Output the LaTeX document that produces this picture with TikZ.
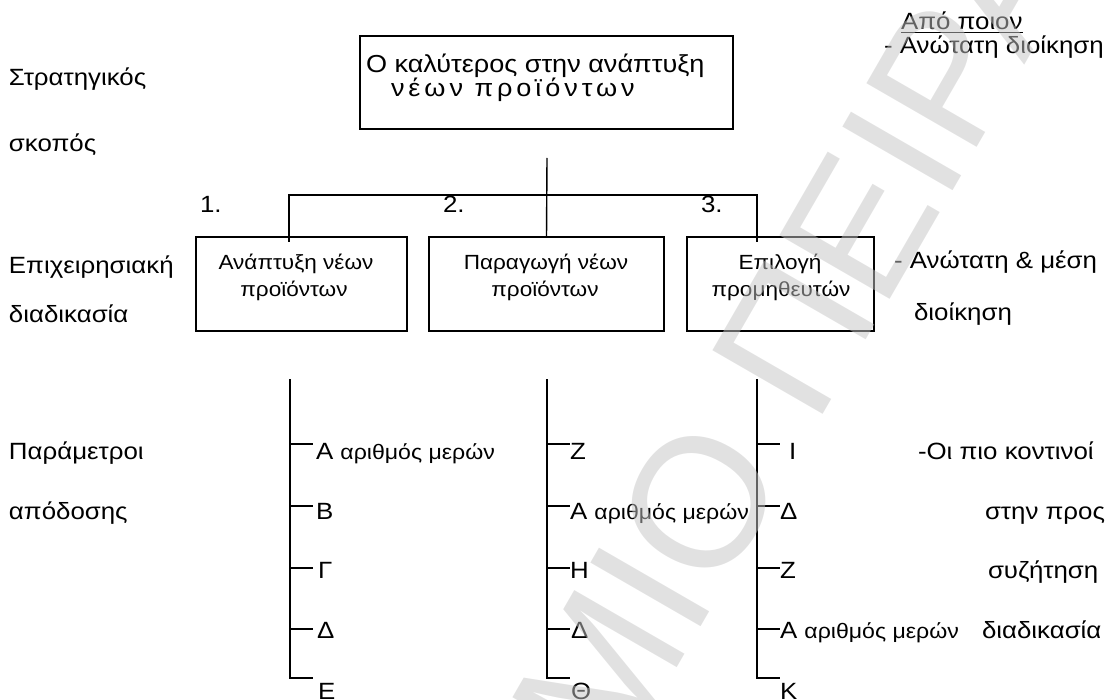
\documentclass[tikz,border=0pt]{standalone}
\usepackage{fontspec}
\setmainfont{Liberation Sans}[FakeStretch=1.1]
\newfontfamily\plainsans{Liberation Sans}
\newcommand\itemsmall{\fontsize{21}{21}\selectfont}
\newcommand\widetrack{\addfontfeature{LetterSpace=16}}
\begin{document}
\begin{tikzpicture}[x=1pt,y=-1pt,
  every node/.style={inner sep=0pt, outer sep=0pt},
  lbl/.style={anchor=base west, font=\fontsize{23.5}{23.5}\selectfont},
  toptxt/.style={anchor=base west, font=\fontsize{24.6}{24.6}\selectfont},
  boxtxt/.style={anchor=base, font=\fontsize{20.5}{20.5}\selectfont},
  item/.style={anchor=base west, font=\fontsize{23.5}{23.5}\selectfont},
  frame/.style={draw, line width=1.5pt, anchor=north west},
  wire/.style={line width=1.4pt},
  watermark/.style={text=black!23, text opacity=0.5, rotate=60, anchor=base,
    font=\plainsans\fontsize{185}{185}\selectfont}
]
\useasboundingbox (0,0) rectangle (1115,700);

% ---------- level labels (left) ----------
\node[lbl] (l1a) at (9,86)  {Στρατηγικός};
\node[lbl] (l1b) at (9,152) {σκοπός};
\node[lbl] (l2a) at (9,274) {Επιχειρησιακή};
\node[lbl] (l2b) at (9,323) {διαδικασία};
\node[lbl] (l3a) at (9,459) {Παράμετροι};
\node[lbl] (l3b) at (9,519) {απόδοσης};

% ---------- responsibility (right) ----------
\node[lbl] (who) at (901,30) {Από ποιον};
\draw[line width=1.2pt] ([yshift=-2.5pt]who.base west) -- ([yshift=-2.5pt]who.base east);
\node[lbl] (r1) at (884,54)  {- Ανώτατη διοίκηση};
\node[lbl] (r2a) at (894,269) {- Ανώτατη \& μέση};
\node[lbl] (r2b) at (914,320) {διοίκηση};
\node[lbl] (r3a) at (918,459) {-Οι πιο κοντινοί};
\node[lbl] (r3b) at (985,519) {στην προς};
\node[lbl] (r3c) at (988,578) {συζήτηση};
\node[lbl] (r3d) at (982,638) {διαδικασία};

% ---------- strategic goal ----------
\node[frame, minimum width=373pt, minimum height=93pt] (goal) at (360,36) {};
\node[toptxt] (g1) at (366,73) {Ο καλύτερος στην ανάπτυξη};
\node[toptxt] (g2) at (391,97) {\widetrack νέων προϊόντων};

% ---------- processes ----------
\node[frame, minimum width=211pt, minimum height=94pt] (p1) at (196,237) {};
\node[frame, minimum width=235pt, minimum height=94pt] (p2) at (429,237) {};
\node[frame, minimum width=187pt, minimum height=94pt] (p3) at (687,237) {};

\node[boxtxt] (p1a) at (296,270) {Ανάπτυξη νέων};
\node[boxtxt] (p1b) at (294,296) {προϊόντων};
\node[boxtxt] (p2a) at (546,270) {Παραγωγή νέων};
\node[boxtxt] (p2b) at (545,296) {προϊόντων};
\node[boxtxt] (p3a) at (780,270) {Επιλογή};
\node[boxtxt] (p3b) at (781,296) {προμηθευτών};

\node[lbl] (n1) at (200,213) {1.};
\node[lbl] (n2) at (443,213) {2.};
\node[lbl] (n3) at (701,213) {3.};

% ---------- connectors between the levels ----------
\coordinate (hub) at (547,158);
\coordinate (j1) at (289,195);
\coordinate (j3) at (757,195);
\coordinate (p1in) at (289,242);
\coordinate (p3in) at (757,242);
\draw[wire] (hub) -- (p2.north);
\draw[wire] (p1in) -- (j1) -- (j3) -- (p3in);

% ---------- performance parameters ----------
\coordinate (c1) at (290,379);
\coordinate (c2) at (547,379);
\coordinate (c3) at (757,379);

\node[item] (a1) at (316,459) {Α {\itemsmall αριθμός μερών}};
\node[item] (a2) at (316,519) {Β};
\node[item] (a3) at (318,578) {Γ};
\node[item] (a4) at (317,638) {Δ};
\node[item] (a5) at (318,699) {Ε};

\node[item] (b1) at (570,459) {Ζ};
\node[item] (b2) at (570,519) {Α {\itemsmall αριθμός μερών}};
\node[item] (b3) at (570,578) {Η};
\node[item] (b4) at (571,638) {Δ};
\node[item] (b5) at (571,699) {Θ};

\node[item] (d1) at (789,459) {Ι};
\node[item] (d2) at (780,519) {Δ};
\node[item] (d3) at (780,578) {Ζ};
\node[item] (d4) at (780,638) {Α {\itemsmall αριθμός μερών}};
\node[item] (d5) at (780,699) {Κ};

\foreach \c in {c1,c2,c3}{
  \draw[wire] (\c) -- ++(0,299) -- ++(23,0);
  \foreach \t in {65,127,189,250}{
    \draw[wire] ([yshift=-\t pt]\c) -- ++(23,0);
  }
}

% ---------- watermark ----------
\node[watermark] (wm) at (662,694) {ΠΑΝΕΠΙΣΤΗΜΙΟ ΠΕΙΡΑΙΩΣ};
\end{tikzpicture}
\end{document}
